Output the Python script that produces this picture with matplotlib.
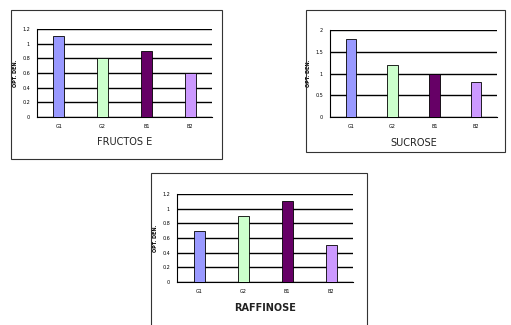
import matplotlib
matplotlib.use("Agg")
import matplotlib.pyplot as plt
from matplotlib.patches import Rectangle

categories = ["G1", "G2", "B1", "B2"]
fructose = [1.1, 0.8, 0.9, 0.6]
sucrose = [1.8, 1.2, 1.0, 0.8]
raffinose = [0.7, 0.9, 1.1, 0.5]
fructose_ticks = [0, 0.2, 0.4, 0.6, 0.8, 1, 1.2]
sucrose_ticks = [0, 0.5, 1, 1.5, 2]
raffinose_ticks = [0, 0.2, 0.4, 0.6, 0.8, 1, 1.2]
bar_colors = ["#9999FF", "#CCFFCC", "#660066", "#CC99FF"]

W, H = 511, 325
fig = plt.figure(figsize=(W / 100, H / 100), dpi=100)
fig.patch.set_facecolor("white")


def px_rect(x0, y0, x1, y1):
    return [x0 / W, 1 - y1 / H, (x1 - x0) / W, (y1 - y0) / H]


def frame(x0, y0, x1, y1):
    fig.patches.append(Rectangle((x0 / W, 1 - y1 / H), (x1 - x0) / W, (y1 - y0) / H,
                                 transform=fig.transFigure, fill=False,
                                 edgecolor="#333333", linewidth=0.8))


def panel(box, values, ticks, title, title_y, title_weight="normal"):
    ax = fig.add_axes(px_rect(*box))
    x = range(len(categories))
    ax.bar(x, values, width=0.25, color=bar_colors, edgecolor="black",
           linewidth=0.6, zorder=3)
    ax.set_xlim(-0.5, len(categories) - 0.5)
    ax.set_ylim(ticks[0], ticks[-1])
    ax.set_yticks(ticks)
    ax.set_yticklabels(["%g" % t for t in ticks], fontsize=3.5)
    ax.set_xticks(list(x))
    ax.set_xticklabels(categories, fontsize=3.5)
    ax.tick_params(length=0, pad=5)
    ax.yaxis.grid(True, color="black", linewidth=1.0, zorder=0)
    for s in ["top", "right"]:
        ax.spines[s].set_visible(False)
    ax.spines["left"].set_linewidth(0.8)
    ax.spines["bottom"].set_linewidth(0.8)
    ax.set_ylabel("OPT. DEN.", fontsize=3.5, fontweight="bold", labelpad=3)
    fig.text((box[0] + box[2]) / 2 / W, 1 - title_y / H, title, fontsize=7,
             ha="center", va="center", color="#222222", fontweight=title_weight)
    return ax


frame(11, 10, 222, 159)
panel((37, 29, 212, 117), fructose, fructose_ticks, "FRUCTOS E", 142)

frame(306, 10, 505, 152)
panel((330, 30, 497, 117), sucrose, sucrose_ticks, "SUCROSE", 143)

frame(151, 173, 367, 330)
panel((177, 194, 353, 282), raffinose, raffinose_ticks, "RAFFINOSE", 308, "bold")

fig.savefig("out.png", dpi=100, facecolor="white")
